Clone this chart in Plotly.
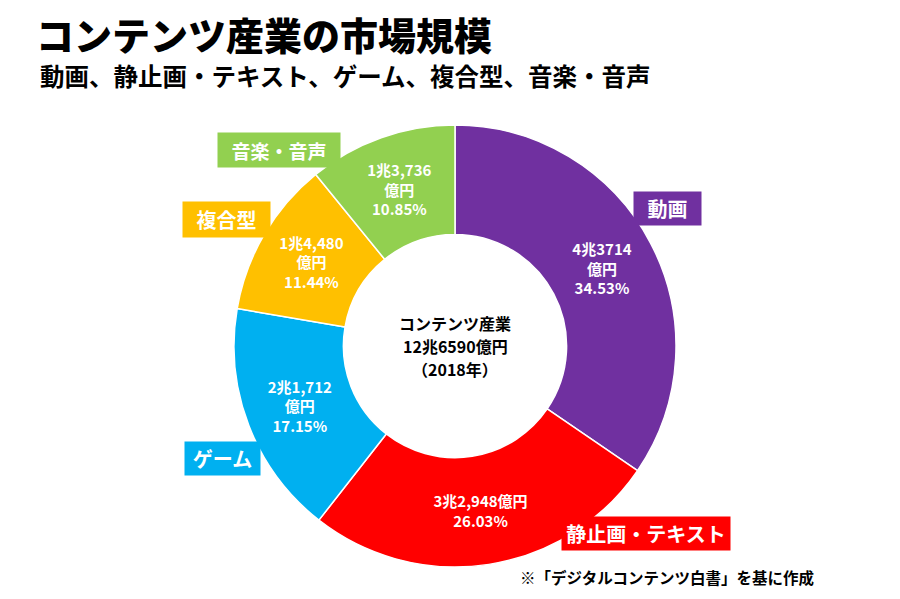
import plotly.graph_objects as go

W, H = 900, 599

categories = ["動画", "静止画・テキスト", "ゲーム", "複合型", "音楽・音声"]
values = [43714, 32948, 21712, 14480, 13736]  # 億円
amount_labels = ["4兆3714<br>億円", "3兆2,948億円", "2兆1,712<br>億円", "1兆4,480<br>億円", "1兆3,736<br>億円"]
colors = ["#7030A0", "#FF0000", "#00B0F0", "#FFC000", "#92D050"]

title = "コンテンツ産業の市場規模"
subtitle = "動画、静止画・テキスト、ゲーム、複合型、音楽・音声"
center_lines = ["コンテンツ産業", "12兆6590億円", "（2018年）"]
footnote = "※「デジタルコンテンツ白書」を基に作成"

FONT = "Noto Sans CJK JP"

def px(x):
    return x / W

def py(y):
    return 1 - y / H

cx, cy, R = 455, 346, 221

fig = go.Figure()
fig.add_trace(go.Pie(
    labels=categories,
    values=values,
    customdata=amount_labels,
    texttemplate="%{customdata}<br>%{percent:.2%}",
    textposition="inside",
    insidetextorientation="horizontal",
    textfont=dict(family=FONT, size=15, color="white", weight="bold"),
    marker=dict(colors=colors, line=dict(color="white", width=1.5)),
    hole=0.505,
    sort=False,
    direction="clockwise",
    rotation=0,
    showlegend=False,
    hoverinfo="label+value+percent",
    domain=dict(x=[px(cx - R), px(cx + R)], y=[py(cy + R), py(cy - R)]),
))

annotations = []
annotations.append(dict(text=title, x=px(34), y=py(33), xanchor="left", yanchor="middle",
                        showarrow=False, font=dict(family=FONT, size=38, color="black", weight=900)))
annotations.append(dict(text=subtitle, x=px(38), y=py(76), xanchor="left", yanchor="middle",
                        showarrow=False, font=dict(family=FONT, size=24.5, color="black", weight="bold")))
for i, line in enumerate(center_lines):
    annotations.append(dict(text=line, x=px(cx), y=py(cy - 23 + 23 * i), xanchor="center", yanchor="middle",
                            showarrow=False, font=dict(family=FONT, size=16, color="black", weight="bold")))
annotations.append(dict(text=footnote, x=px(816), y=py(577), xanchor="right", yanchor="middle",
                        showarrow=False, font=dict(family=FONT, size=15.5, color="black", weight="bold")))

# category label boxes: (center x, center y, width, height, font size)
boxes = {
    "動画": (667, 209, 67, 33, 20),
    "静止画・テキスト": (646, 533, 168, 33, 20),
    "ゲーム": (222, 458, 75, 33, 20),
    "複合型": (226, 219, 87, 35, 20),
    "音楽・音声": (279, 150, 122, 34, 19),
}
for cat, col in zip(categories, colors):
    bx, by, bw, bh, fs = boxes[cat]
    annotations.append(dict(text=cat, x=px(bx), y=py(by), xanchor="center", yanchor="middle",
                            showarrow=False, bgcolor=col, width=bw, height=bh, borderpad=0,
                            align="center", valign="middle",
                            font=dict(family=FONT, size=fs, color="white", weight="bold")))

fig.update_layout(
    width=W, height=H,
    margin=dict(l=0, r=0, t=0, b=0),
    paper_bgcolor="white",
    plot_bgcolor="white",
    annotations=annotations,
)

fig.write_html("out.html", config={"displayModeBar": False},
               post_script="document.body.style.margin='0px';")
